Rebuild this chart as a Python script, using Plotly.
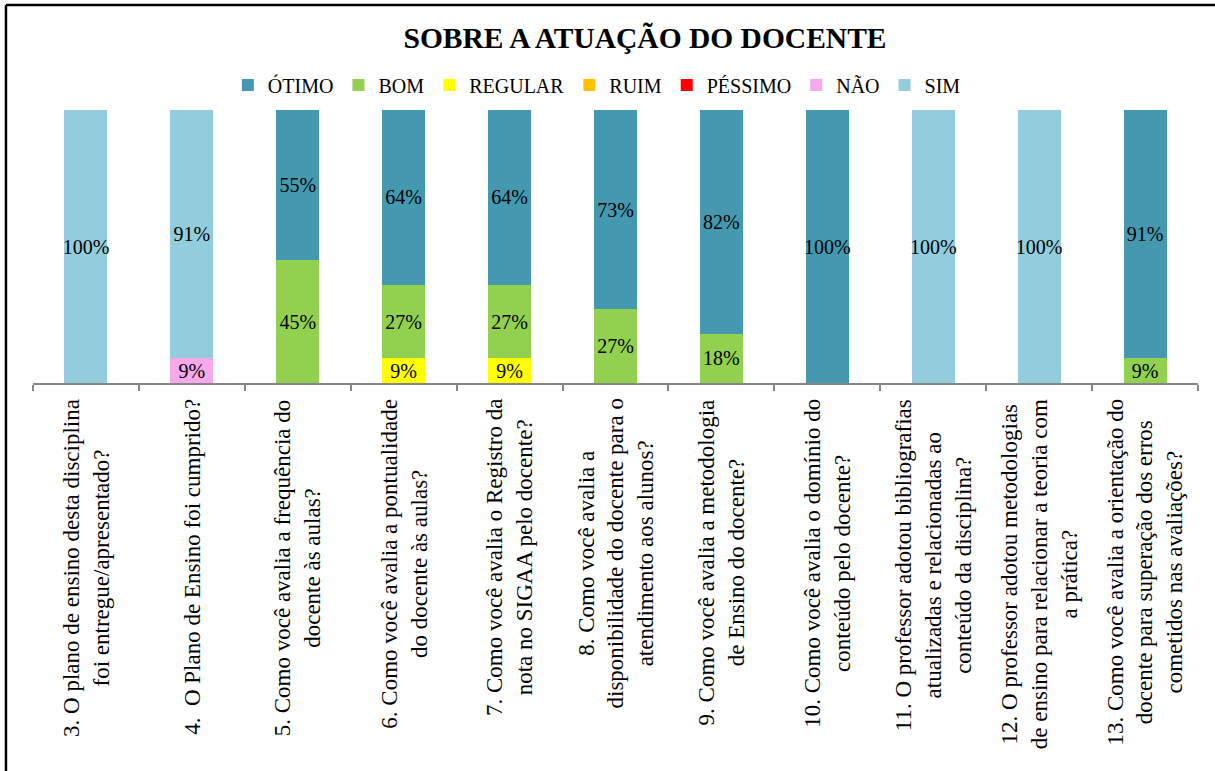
import plotly.graph_objects as go

categories = [
    "3. O plano de ensino desta disciplina<br>foi entregue/apresentado?",
    "4.\u00a0 O Plano de Ensino foi cumprido?",
    "5. Como você avalia a frequência do<br>docente às aulas?",
    "6. Como você avalia a pontualidade<br>do docente às aulas?",
    "7. Como você avalia o Registro da<br>nota no SIGAA pelo docente?",
    "8. Como você avalia a<br>disponibilidade do docente para o<br>atendimento aos alunos?",
    "9. Como você avalia a metodologia<br>de Ensino do docente?",
    "10. Como você avalia o domínio do<br>conteúdo pelo docente?",
    "11. O professor adotou bibliografias<br>atualizadas e relacionadas ao<br>conteúdo da disciplina?",
    "12. O professor adotou metodologias<br>de ensino para relacionar a teoria com<br>a prática?",
    "13. Como você avalia a orientação do<br>docente para superação dos erros<br>cometidos nas avaliações?",
]

otimo   = [None, None, 55, 64, 64, 73, 82, 100, None, None, 91]
bom     = [None, None, 45, 27, 27, 27, 18, None, None, None, 9]
regular = [None, None, None, 9, 9, None, None, None, None, None, None]
ruim    = [None] * 11
pessimo = [None] * 11
nao     = [None, 9, None, None, None, None, None, None, None, None, None]
sim     = [100, 91, None, None, None, None, None, None, 100, 100, None]

title_text = "SOBRE A ATUAÇÃO DO DOCENTE"

# stacking order bottom -> top, with legend rank
series = [
    ("NÃO", nao, "#F7A8EA", 6),
    ("PÉSSIMO", pessimo, "#FF0000", 5),
    ("RUIM", ruim, "#FFC000", 4),
    ("REGULAR", regular, "#FFFF00", 3),
    ("BOM", bom, "#92D050", 2),
    ("ÓTIMO", otimo, "#4499B1", 1),
    ("SIM", sim, "#93CDDD", 7),
]

FONT = "Liberation Serif, Times New Roman, serif"
W, H = 1215, 771

fig = go.Figure()
for name, vals, color, rank in series:
    fig.add_trace(go.Bar(
        x=categories, y=vals, name=name, legendrank=rank,
        marker=dict(color=color, line=dict(width=0)),
        texttemplate="%{y}%", textposition="inside", insidetextanchor="middle",
        constraintext="none", textangle=0,
        textfont=dict(family=FONT, size=20, color="black"),
        insidetextfont=dict(family=FONT, size=20, color="black"),
        hoverinfo="skip",
    ))

for cat in categories:
    fig.add_annotation(
        x=cat, y=0, xref="x", yref="y", text=cat, textangle=-90,
        showarrow=False, xanchor="center", yanchor="top", yshift=-14,
        align="center", font=dict(family=FONT, size=23, color="black"),
    )

# outer chart frame (top and left visible)
fig.add_shape(type="line", xref="paper", yref="paper",
              x0=-0.0232, x1=1.05, y0=1.3846, y1=1.3846,
              line=dict(color="black", width=2.5))
fig.add_shape(type="line", xref="paper", yref="paper",
              x0=-0.0232, x1=-0.0232, y0=1.3846, y1=-1.5,
              line=dict(color="black", width=2.5))

fig.update_layout(
    width=W, height=H,
    margin=dict(l=33, r=17, t=110, b=388, autoexpand=False),
    barmode="stack", bargap=0.594,
    plot_bgcolor="white", paper_bgcolor="white",
    font=dict(family=FONT, color="black"),
    title=dict(text="<b>" + title_text + "</b>", x=645 / W, xref="container",
               xanchor="center", y=1 - 38 / H, yref="container", yanchor="middle",
               font=dict(family=FONT, size=29.5, color="black")),
    legend=dict(orientation="h", x=0.484, xanchor="center", y=1.0916,
                yanchor="middle", font=dict(family=FONT, size=20, color="black"),
                bgcolor="rgba(0,0,0,0)", traceorder="normal", itemclick=False),
    showlegend=True,
)
fig.update_xaxes(showticklabels=False, showline=True, linecolor="#868686",
                 linewidth=1.5, ticks="outside", tickson="boundaries",
                 ticklen=6, tickcolor="#868686", tickwidth=1.5,
                 showgrid=False, zeroline=False, fixedrange=True)
fig.update_yaxes(range=[0, 100], visible=False, showgrid=False,
                 zeroline=False, fixedrange=True)

fig.write_html("out.html", config={"displayModeBar": False},
               post_script="document.body.style.margin='0';document.body.style.overflow='hidden';")
